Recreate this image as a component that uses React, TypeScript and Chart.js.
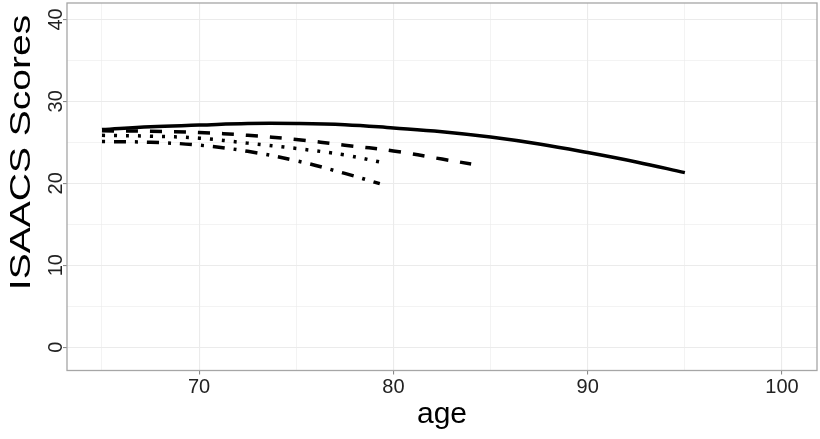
import React, { useEffect, useRef } from "react";
import { Chart, registerables } from "chart.js";

Chart.register(...registerables);

// ---- data ----
const solidAges = [65, 67.5, 70, 72.5, 75, 77.5, 80, 82.5, 85, 87.5, 90, 92.5, 95];
const solidScores = [26.55, 26.9, 27.1, 27.3, 27.3, 27.15, 26.75, 26.3, 25.65, 24.8, 23.75, 22.6, 21.3];

const dashedAges = [65, 67.5, 70, 72.5, 75, 77.5, 80, 82.5, 84];
const dashedScores = [26.4, 26.35, 26.2, 25.85, 25.35, 24.65, 23.95, 22.95, 22.35];

const dottedAges = [65, 67.5, 70, 72.5, 75, 77.5, 79.4];
const dottedScores = [25.85, 25.75, 25.5, 24.9, 24.25, 23.45, 22.55];

const dotDashAges = [65, 67.5, 70, 72.5, 75, 77.5, 79.3];
const dotDashScores = [25.1, 25.0, 24.65, 23.9, 22.75, 21.2, 19.95];

const xTickValues = [65, 70, 75, 80, 85, 90, 95, 100];
const yTickValues = [0, 5, 10, 15, 20, 25, 30, 35, 40];
const xRange = [63.2, 101.8];
const yRange = [-2.85, 42.0];

const xTitle = "age";
const yTitle = "ISAACS Scores";

const FONT = "'Liberation Sans', Arial, Helvetica, sans-serif";
const GRID = "#ebebeb";
const TICK = "#8a8a8a";
const BORDER = "#a6a6a6";

const toPoints = (xs: number[], ys: number[]) => xs.map((x, i) => ({ x, y: ys[i] }));

const decorPlugin = {
  id: "decor",
  afterDraw(chart: any) {
    const { ctx, chartArea, scales } = chart;
    ctx.save();
    // panel border
    ctx.strokeStyle = BORDER;
    ctx.lineWidth = 1.3;
    ctx.strokeRect(chartArea.left, chartArea.top, chartArea.right - chartArea.left, chartArea.bottom - chartArea.top);
    // y tick labels, rotated
    const y = scales.y;
    ctx.fillStyle = "#222";
    ctx.font = `20px ${FONT}`;
    ctx.textAlign = "center";
    ctx.textBaseline = "alphabetic";
    y.ticks.forEach((t: any) => {
      if (t.value % 10 !== 0) return;
      const py = y.getPixelForValue(t.value);
      ctx.save();
      ctx.translate(chartArea.left - 5, py);
      ctx.rotate(-Math.PI / 2);
      ctx.fillText(String(t.value), 0, 0);
      ctx.restore();
    });
    // y title (stretched like the reference)
    ctx.save();
    ctx.fillStyle = "#000";
    ctx.font = `30px ${FONT}`;
    ctx.textAlign = "center";
    ctx.textBaseline = "alphabetic";
    ctx.translate(29.5, 152.5);
    ctx.rotate(-Math.PI / 2);
    ctx.scale(1.3, 1);
    ctx.fillText(yTitle, 0, 0);
    ctx.restore();
    ctx.restore();
  },
};

export default function App() {
  const ref = useRef<HTMLCanvasElement | null>(null);

  useEffect(() => {
    document.body.style.margin = "0";
    const canvas = ref.current;
    if (!canvas) return;
    const common = {
      borderColor: "#000",
      borderWidth: 3.5,
      pointRadius: 0,
      fill: false,
      tension: 0.4,
      borderCapStyle: "butt" as const,
    };
    const chart = new Chart(canvas, {
      type: "line",
      data: {
        datasets: [
          { ...common, label: "solid", data: toPoints(solidAges, solidScores) },
          { ...common, label: "dashed", data: toPoints(dashedAges, dashedScores), borderDash: [12, 12] },
          { ...common, label: "dotted", data: toPoints(dottedAges, dottedScores), borderDash: [3, 9] },
          { ...common, label: "dotdash", data: toPoints(dotDashAges, dotDashScores), borderDash: [3, 9, 12, 9] },
        ],
      },
      options: {
        animation: false,
        responsive: false,
        devicePixelRatio: 1,
        layout: { padding: { top: 3, right: 3, left: 0, bottom: 0 } },
        plugins: { legend: { display: false }, tooltip: { enabled: false } },
        scales: {
          x: {
            type: "linear",
            min: xRange[0],
            max: xRange[1],
            afterBuildTicks: (s: any) => {
              s.ticks = xTickValues.map((v) => ({ value: v }));
            },
            afterFit: (s: any) => {
              s.height = 68.5;
            },
            border: { display: false },
            grid: {
              color: GRID,
              lineWidth: (c: any) => (c.tick && c.tick.value % 10 === 0 ? 1.1 : 0.6),
              tickColor: (c: any) => (c.tick && c.tick.value % 10 === 0 ? TICK : "rgba(0,0,0,0)"),
              tickWidth: 1.1,
              tickLength: 4,
              drawTicks: true,
            },
            ticks: {
              autoSkip: false,
              maxRotation: 0,
              minRotation: 0,
              padding: 1,
              color: "#222",
              font: { family: FONT, size: 20 },
              callback: (v: any) => (Number(v) % 10 === 0 ? String(v) : ""),
            },
            title: {
              display: true,
              text: xTitle,
              color: "#000",
              font: { family: FONT, size: 30 },
              padding: { top: 0, bottom: 6.5 },
            },
          },
          y: {
            type: "linear",
            min: yRange[0],
            max: yRange[1],
            afterBuildTicks: (s: any) => {
              s.ticks = yTickValues.map((v) => ({ value: v }));
            },
            afterFit: (s: any) => {
              s.width = 67;
            },
            border: { display: false },
            grid: {
              color: GRID,
              lineWidth: (c: any) => (c.tick && c.tick.value % 10 === 0 ? 1.1 : 0.6),
              tickColor: (c: any) => (c.tick && c.tick.value % 10 === 0 ? TICK : "rgba(0,0,0,0)"),
              tickWidth: 1.1,
              tickLength: 4,
              drawTicks: true,
            },
            ticks: { display: false },
          },
        },
      },
      plugins: [decorPlugin],
    });
    return () => chart.destroy();
  }, []);

  return (
    <div style={{ position: "fixed", left: 0, top: 0, width: 820, height: 439, background: "#fff" }}>
      <canvas ref={ref} width={820} height={439} style={{ width: 820, height: 439 }} />
    </div>
  );
}
